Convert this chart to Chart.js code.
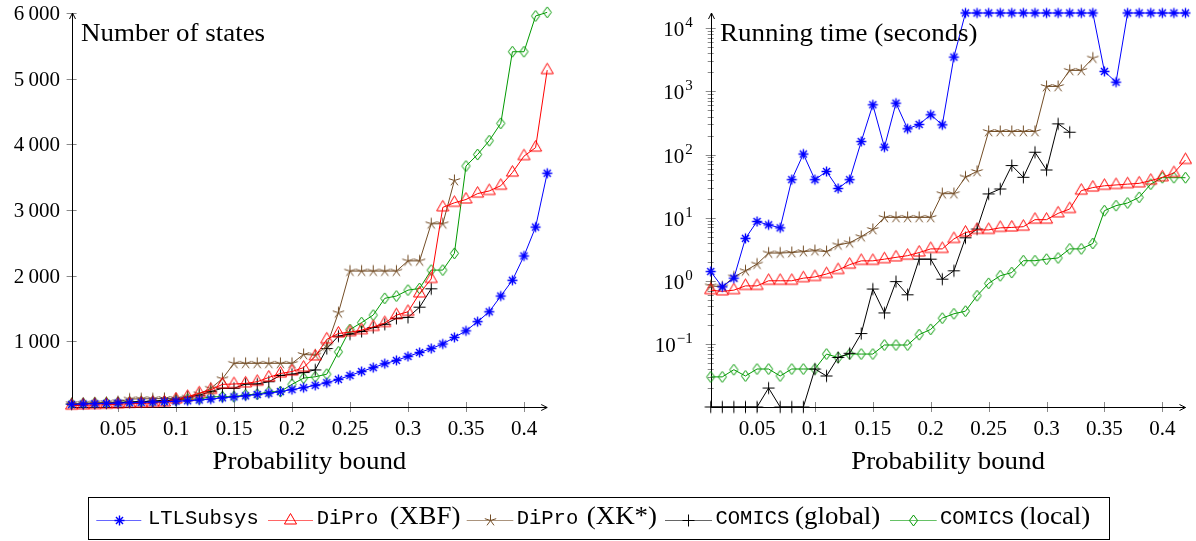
<!DOCTYPE html>
<html>
<head>
<meta charset="utf-8">
<script src="https://cdn.jsdelivr.net/npm/chart.js@4"></script>
<style>
  body { margin: 0; background: #fff; width: 1196px; height: 541px; overflow: hidden; position: relative; }
  canvas { position: absolute; top: 0; }
  #states { left: 0; }
  #times { left: 598px; }
  #legend { left: 88px; top: 497px; }
</style>
</head>
<body>
<canvas id="states" width="598" height="495"></canvas>
<canvas id="times" width="598" height="495"></canvas>
<canvas id="legend" width="1022" height="44"></canvas>
<script>
// probability bounds on the x axis
const probs = [0.01,0.02,0.03,0.04,0.05,0.06,0.07,0.08,0.09,0.10,
               0.11,0.12,0.13,0.14,0.15,0.16,0.17,0.18,0.19,0.20,
               0.21,0.22,0.23,0.24,0.25,0.26,0.27,0.28,0.29,0.30,
               0.31,0.32,0.33,0.34,0.35,0.36,0.37,0.38,0.39,0.40,
               0.41,0.42];
const xTicks = [0.05,0.1,0.15,0.2,0.25,0.3,0.35,0.4];
const statesTicks = [1000,2000,3000,4000,5000,6000];
const timeTicks = [0.1,1,10,100,1000,10000];

// number of states
const statesLTL = [40,45,50,55,60,65,70,75,80,88, 95,107,120,140,155,170,190,210,235,265,
                   295,330,370,420,480,540,600,660,710,770, 830,890,960,1060,1160,1300,1450,1690,1930,2300,
                   2740,3560];
const statesXBF = [20,25,30,35,40,50,55,60,70,115, 155,210,260,345,350,360,385,450,510,540,
                   600,770,1030,1120,1140,1170,1220,1280,1400,1450, 1730,1950,3040,3110,3160,3250,3290,3370,3570,3820,
                   3950,5130];
const statesXK = [50,55,60,65,80,120,125,125,130,130, 150,200,285,430,665,665,665,665,665,665,
                  800,790,930,1435,2070,2070,2070,2070,2070,2225, 2225,2790,2790,3450];
const statesGlobal = [45,50,55,60,65,75,80,90,100,110, 150,180,235,285,285,350,350,385,480,500,
                      525,565,890,1080,1110,1150,1210,1260,1350,1365, 1520,1800];
const statesLocal = [50,55,60,65,70,75,80,80,85,105, 120,122,155,157,157,185,195,230,235,345,
                     440,460,500,840,1180,1285,1400,1655,1690,1780, 1805,2085,2085,2340,3670,3845,4055,4320,5410,5410,
                     5955,6010];

// running time in seconds (timeouts at the top, values below range at the bottom)
const timeLTL = [1.4,0.8,1.1,4.7,8.7,7.7,6.9,40,102,40, 54,29,40,161,615,131,653,256,300,427,
                 296,3500,17500,17500,17500,17500,17500,17500,17500,17500, 17500,17500,17500,17500,2077,1405,17500,17500,17500,17500,
                 17500,17500];
const timeXBF = [0.71,0.68,0.71,0.83,0.83,1.0,1.0,1.0,1.1,1.15, 1.28,1.48,1.8,2.07,2.07,2.2,2.35,2.5,2.8,3.2,
                 3.2,4.6,5.8,6.4,6.4,6.9,7.0,7.2,9.3,9.3, 11.7,13.7,26.8,30,32,33,34,35,38.6,43.6,
                 51,82];
const timeXK = [0.83,0.80,1.15,1.44,1.84,2.75,2.75,2.8,2.9,3.0, 2.9,3.7,4.0,5.0,6.5,10.1,10.1,10.1,10.1,10.1,
                24,24,44,54,232,232,232,232,232,1200, 1200,2155,2155,3380];
const timeGlobal = [0.01,0.01,0.01,0.01,0.01,0.02,0.01,0.01,0.01,0.04, 0.031,0.061,0.071,0.146,0.74,0.31,0.97,0.6,2.2,2.2,
                    1.06,1.44,4.8,6.6,23.8,28.5,67,43.6,109,57, 307,226];
const timeLocal = [0.030,0.030,0.039,0.031,0.040,0.040,0.031,0.040,0.040,0.040, 0.069,0.061,0.069,0.069,0.069,0.096,0.096,0.096,0.14,0.17,
                   0.256,0.30,0.33,0.58,0.91,1.2,1.35,2.08,2.08,2.2, 2.3,3.2,3.2,3.9,12.9,15.5,17.1,21,34,43,
                   43,43];

const SERIF = '"Liberation Serif", "Times New Roman", serif';
const MONO = '"Liberation Mono", "DejaVu Sans Mono", monospace';

const BLUE = '#0000ff', RED = '#ff0000', BROWN = '#734d26', BLACK = '#000000', GREEN = '#009900';

// Times is narrower than Computer Modern, so widen the serif text a little
function wideText(ctx, text, x, y, align) {
  const sx = 1.1;
  const w = ctx.measureText(text).width * sx;
  let x0 = x;
  if (align === 'center') x0 = x - w / 2;
  else if (align === 'right') x0 = x - w;
  ctx.save();
  ctx.textAlign = 'left';
  ctx.translate(x0, y);
  ctx.scale(sx, 1);
  ctx.fillText(text, 0, 0);
  ctx.restore();
  return w;
}

// pgfplots-like marks drawn once into small canvases
function makeMark(kind, color) {
  const c = document.createElement('canvas');
  c.width = 17; c.height = 17;
  const g = c.getContext('2d');
  g.translate(8.5, 8.5);
  g.strokeStyle = color;
  g.lineWidth = 1;
  g.beginPath();
  if (kind === 'asterisk') {
    g.lineWidth = 1.4;
    for (let k = 0; k < 4; k++) {
      const a = k * Math.PI / 4;
      g.moveTo(-5 * Math.cos(a), -5 * Math.sin(a));
      g.lineTo(5 * Math.cos(a), 5 * Math.sin(a));
    }
  } else if (kind === 'triangle') {
    g.moveTo(0, -7); g.lineTo(6.06, 3.5); g.lineTo(-6.06, 3.5); g.closePath();
  } else if (kind === 'star') {
    for (let k = 0; k < 5; k++) {
      const a = -Math.PI / 2 + k * 2 * Math.PI / 5;
      g.moveTo(0, 0); g.lineTo(6 * Math.cos(a), 6 * Math.sin(a));
    }
  } else if (kind === 'plus') {
    g.moveTo(-6, 0); g.lineTo(6, 0); g.moveTo(0, -6); g.lineTo(0, 6);
  } else if (kind === 'diamond') {
    g.moveTo(0, -5.5); g.lineTo(4.1, 0); g.lineTo(0, 5.5); g.lineTo(-4.1, 0); g.closePath();
  }
  g.stroke();
  return c;
}

const marks = {
  ltl: makeMark('asterisk', BLUE),
  xbf: makeMark('triangle', RED),
  xk: makeMark('star', BROWN),
  global: makeMark('plus', BLACK),
  local: makeMark('diamond', GREEN)
};

function series(label, values, color, mark) {
  return {
    label: label,
    data: values.map((v, i) => ({ x: probs[i], y: v })),
    borderColor: color,
    backgroundColor: color,
    borderWidth: 1,
    pointStyle: mark,
    pointRadius: 6,
    pointHoverRadius: 6,
    tension: 0,
    clip: false,
    fill: false
  };
}

/* axis lines with arrows, pgfplots style tick marks and labels */
const pgfAxes = {
  id: 'pgfAxes',
  beforeDatasetsDraw: (chart, args, opts) => {
    const { ctx, chartArea: { left, right, top, bottom }, scales: { x, y } } = chart;
    ctx.save();
    ctx.lineWidth = 1;
    ctx.strokeStyle = '#8a8a8a';
    ctx.beginPath();
    x.ticks.forEach(t => {
      const px = Math.round(x.getPixelForValue(t.value)) + 0.5;
      ctx.moveTo(px, bottom - 5); ctx.lineTo(px, bottom + 5);
    });
    y.ticks.forEach(t => {
      const py = Math.round(y.getPixelForValue(t.value)) + 0.5;
      ctx.moveTo(left - 5, py); ctx.lineTo(left + 5, py);
    });
    if (opts.log) {
      for (let e = -2; e <= 4; e++) {
        for (let k = 2; k <= 9; k++) {
          const v = k * Math.pow(10, e);
          if (v < y.min || v > y.max) continue;
          const py = Math.round(y.getPixelForValue(v)) + 0.5;
          ctx.moveTo(left - 3, py); ctx.lineTo(left + 3, py);
        }
      }
    }
    ctx.stroke();

    ctx.strokeStyle = '#000';
    const bx = Math.round(left) + 0.5, by = Math.round(bottom) + 0.5;
    ctx.beginPath();
    ctx.moveTo(bx, by); ctx.lineTo(right, by);
    ctx.moveTo(bx, by); ctx.lineTo(bx, top);
    ctx.moveTo(right - 6, by - 3); ctx.lineTo(right, by); ctx.lineTo(right - 6, by + 3);
    ctx.moveTo(bx - 3, top + 6); ctx.lineTo(bx, top); ctx.lineTo(bx + 3, top + 6);
    ctx.stroke();
    ctx.restore();
  },
  afterDraw: (chart, args, opts) => {
    const { ctx, chartArea: { left, right, top, bottom }, scales: { x, y } } = chart;
    ctx.save();
    ctx.fillStyle = '#000';
    ctx.textBaseline = 'alphabetic';

    ctx.font = '21px ' + SERIF;
    ctx.textAlign = 'center';
    x.ticks.forEach(t => ctx.fillText(String(t.value), x.getPixelForValue(t.value), bottom + 28));

    if (opts.log) {
      y.ticks.forEach(t => {
        const py = y.getPixelForValue(t.value);
        const e = Math.round(Math.log10(t.value));
        const exp = e < 0 ? '\u2212' + (-e) : String(e);
        ctx.font = '15px ' + SERIF;
        ctx.textAlign = 'right';
        const ex = left - 18;
        ctx.fillText(exp, ex, py - 1);
        const w = ctx.measureText(exp).width;
        ctx.font = '21px ' + SERIF;
        ctx.fillText('10', ex - w - 1, py + 8);
      });
    } else {
      ctx.font = '21px ' + SERIF;
      ctx.textAlign = 'right';
      y.ticks.forEach(t => {
        const py = y.getPixelForValue(t.value);
        ctx.fillText(String(t.value / 1000) + '\u2009000', left - 11.6, py + 7);
      });
    }

    ctx.font = '24.5px ' + SERIF;
    wideText(ctx, opts.title, left + 9.4, 41, 'left');
    wideText(ctx, opts.xTitle, (left + right) / 2, 469, 'center');
    ctx.restore();
  }
};

function makeChart(id, datasets, yScale, yWidth, padRight, opts) {
  return new Chart(document.getElementById(id), {
    type: 'line',
    data: { datasets: datasets },
    options: {
      responsive: false,
      animation: false,
      events: [],
      layout: { padding: { left: 0, right: padRight, top: 13, bottom: 0 } },
      scales: {
        x: {
          type: 'linear', min: 0.01, max: 0.42,
          grid: { display: false }, border: { display: false },
          ticks: { display: false },
          afterBuildTicks: s => { s.ticks = xTicks.map(v => ({ value: v })); },
          afterFit: s => { s.height = 88; }
        },
        y: Object.assign({
          grid: { display: false }, border: { display: false },
          ticks: { display: false },
          afterFit: s => { s.width = yWidth; }
        }, yScale)
      },
      plugins: {
        legend: { display: false },
        tooltip: { enabled: false },
        pgfAxes: opts
      }
    },
    plugins: [pgfAxes]
  });
}

const names = ['LTLSubsys', 'DiPro (XBF)', 'DiPro (XK*)', 'COMICS (global)', 'COMICS (local)'];

makeChart('states', [
  series(names[0], statesLTL, BLUE, marks.ltl),
  series(names[1], statesXBF, RED, marks.xbf),
  series(names[2], statesXK, BROWN, marks.xk),
  series(names[3], statesGlobal, BLACK, marks.global),
  series(names[4], statesLocal, GREEN, marks.local)
], {
  type: 'linear', min: 0, max: 6000,
  afterBuildTicks: s => { s.ticks = statesTicks.map(v => ({ value: v })); }
}, 71.6, 50.8, { title: 'Number of states', xTitle: 'Probability bound', log: false });

makeChart('times', [
  series(names[0], timeLTL, BLUE, marks.ltl),
  series(names[1], timeXBF, RED, marks.xbf),
  series(names[2], timeXK, BROWN, marks.xk),
  series(names[3], timeGlobal, BLACK, marks.global),
  series(names[4], timeLocal, GREEN, marks.local)
], {
  type: 'logarithmic', min: 0.01, max: 17500,
  afterBuildTicks: s => { s.ticks = timeTicks.map(v => ({ value: v })); }
}, 112.7, 10.5, { title: 'Running time (seconds)', xTitle: 'Probability bound', log: true });

// shared legend box below both plots
(function drawLegend() {
  const lg = document.getElementById('legend').getContext('2d');
  lg.strokeStyle = '#000';
  lg.lineWidth = 1;
  lg.strokeRect(0.5, 0.5, 1021, 42);
  const entries = [
    { line: [8.3, 53.3], mark: 31.7, text: 60, paren: 0, mono: 'LTLSubsys', rest: '', color: BLUE, img: marks.ltl },
    { line: [180, 225], mark: 202, text: 228.7, paren: 302, mono: 'DiPro', rest: '(XBF)', color: RED, img: marks.xbf },
    { line: [378.7, 425.3], mark: 402, text: 428.7, paren: 498.7, mono: 'DiPro', rest: '(XK*)', color: BROWN, img: marks.xk },
    { line: [577, 624], mark: 600, text: 627.5, paren: 707, mono: 'COMICS', rest: '(global)', color: BLACK, img: marks.global },
    { line: [802, 848.7], mark: 825, text: 852, paren: 932, mono: 'COMICS', rest: '(local)', color: GREEN, img: marks.local }
  ];
  const cy = 23.5;
  entries.forEach(e => {
    lg.save();
    lg.globalAlpha = 0.6;
    lg.strokeStyle = e.color;
    lg.beginPath();
    lg.moveTo(e.line[0], cy); lg.lineTo(e.line[1], cy);
    lg.stroke();
    lg.restore();
    lg.drawImage(e.img, Math.round(e.mark - 8.5), Math.round(cy - 8.5));
    lg.fillStyle = '#000';
    lg.textBaseline = 'alphabetic';
    lg.font = '20.5px ' + MONO;
    lg.fillText(e.mono, e.text, 27.3);
    if (e.rest) {
      lg.font = '24.5px ' + SERIF;
      wideText(lg, e.rest, e.paren, 27.3, 'left');
    }
  });
})();
</script>
</body>
</html>
